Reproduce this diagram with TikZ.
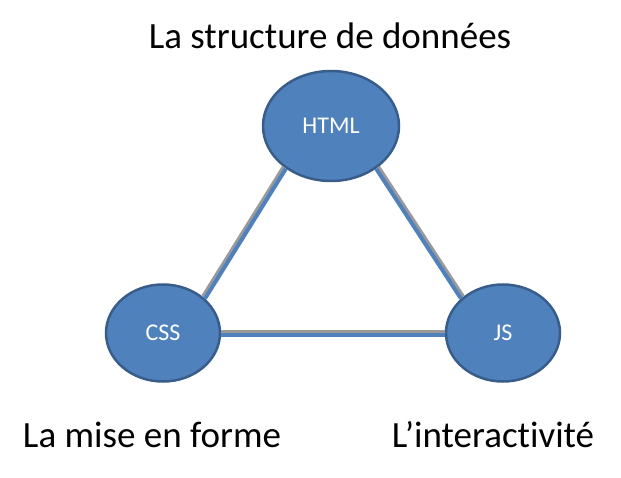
\documentclass[tikz,border=0pt]{standalone}
\usepackage{fontspec}
\setmainfont{Carlito}[Ligatures=NoCommon]
\usetikzlibrary{shapes.geometric}
\definecolor{fillblue}{HTML}{4F81BD}
\definecolor{edgeblue}{HTML}{385D8A}
\definecolor{shadowgray}{HTML}{9A9A9A}
\tikzset{
  bubble/.style={ellipse, fill=fillblue, draw=edgeblue, line width=2.5pt, text=white,
    font=\fontsize{24}{28}\selectfont, inner sep=0pt},
  bigbubble/.style={bubble, minimum width=136pt, minimum height=110pt},
  smallbubble/.style={bubble, minimum width=114pt, minimum height=97pt},
  caption/.style={font=\fontsize{37}{42}\selectfont, inner sep=0pt},
  shadowline/.style={draw=shadowgray, line width=3pt},
  mainline/.style={draw=fillblue, line width=4pt}
}
\begin{document}
\begin{tikzpicture}[x=1pt,y=1pt]
\useasboundingbox (0,0) rectangle (621,477);
\node[bigbubble] (html) at (331,351) {HTML};
\node[smallbubble] (css) at (163,144) {CSS};
\node[smallbubble] (js) at (503,144) {JS};
\begin{scope}[transform canvas={shift={(-1.3,1.05)}}]
  \draw[shadowline] (html.222) -- (css.41);
\end{scope}
\begin{scope}[transform canvas={shift={(1.2,-1.0)}}]
  \draw[mainline] (html.222) -- (css.41);
\end{scope}
\begin{scope}[transform canvas={shift={(1.3,1.05)}}]
  \draw[shadowline] (html.318) -- (js.139);
\end{scope}
\begin{scope}[transform canvas={shift={(-1.2,-1.0)}}]
  \draw[mainline] (html.318) -- (js.139);
\end{scope}
\begin{scope}[transform canvas={shift={(0,2.0)}}]
  \draw[shadowline] (css) -- (js);
\end{scope}
\begin{scope}[transform canvas={shift={(0,-1.5)}}]
  \draw[mainline] (css) -- (js);
\end{scope}
\node[caption] (t1) at (330,441) {La structure de données};
\node[caption] (t2) at (152,42) {La mise en forme};
\node[caption] (t3) at (493,42) {L’interactivité};
\end{tikzpicture}
\end{document}
